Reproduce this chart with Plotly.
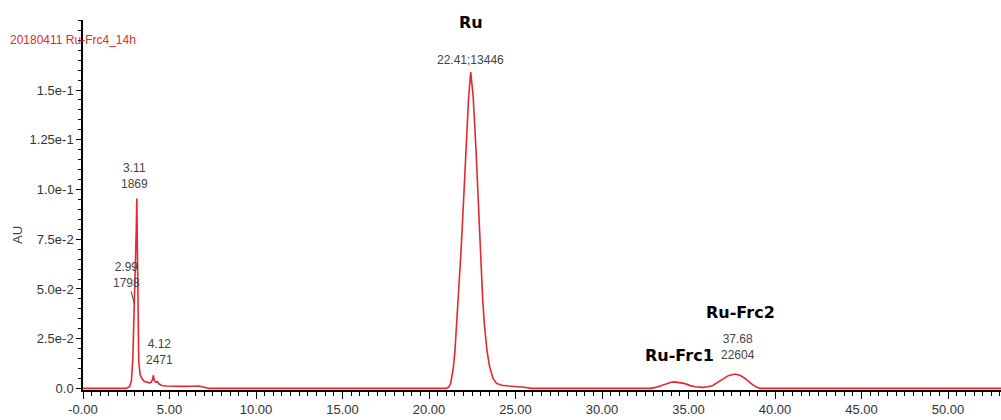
import plotly.graph_objects as go

# Chromatogram trace (retention time in min, absorbance in AU)
time_min = [0.0, 2.5, 2.7, 2.8, 2.88, 2.95, 2.99, 3.04, 3.08, 3.11, 3.14, 3.17, 3.22, 3.3, 3.4, 3.55, 3.7,
            3.85, 3.95, 4.02, 4.07, 4.12, 4.2, 4.3, 4.4, 4.55, 4.8, 5.2, 5.8, 6.3, 6.7, 7.0, 7.3,
            21.0, 21.15, 21.25, 21.4, 21.5, 21.7, 21.85, 22.0, 22.14, 22.28, 22.41, 22.55, 22.72,
            22.85, 22.95, 23.1, 23.2, 23.35, 23.5, 23.7, 23.9, 24.2, 24.6, 25.0, 25.5, 25.9,
            32.8, 33.1, 33.4, 33.7, 34.0, 34.2, 34.5, 34.8, 35.1, 35.4, 35.8, 36.1, 36.4, 36.7,
            37.0, 37.3, 37.68, 38.0, 38.3, 38.6, 38.9, 39.1, 53.1]
absorb_au = [0.0, 0.0, 0.001, 0.004, 0.015, 0.036, 0.042, 0.058, 0.08, 0.0955, 0.06, 0.03, 0.014, 0.007, 0.005, 0.0035, 0.003,
             0.0028, 0.0032, 0.0045, 0.0066, 0.004, 0.0032, 0.0034, 0.0022, 0.0015, 0.0012, 0.001, 0.001, 0.0011, 0.0012, 0.0006, 0.0,
             0.0, 0.0008, 0.0025, 0.01, 0.019, 0.045, 0.069, 0.095, 0.119, 0.145, 0.159, 0.147, 0.119,
             0.092, 0.069, 0.045, 0.032, 0.019, 0.011, 0.005, 0.0025, 0.0016, 0.0012, 0.001, 0.0006, 0.0,
             0.0, 0.0005, 0.0014, 0.0024, 0.0031, 0.0033, 0.003, 0.0024, 0.0014, 0.0008, 0.0005, 0.0008, 0.0015, 0.003,
             0.0048, 0.0064, 0.0072, 0.0065, 0.0048, 0.0025, 0.0008, 0.0, 0.0]

# Peak labels
peak_x = [22.41, 3.11, 2.99, 4.12, 37.68]
peak_y = [0.159, 0.0955, 0.042, 0.0066, 0.0072]
peak_text = ["22.41;13446", "3.11<br>1869", "2.99<br>1798", "4.12<br>2471", "37.68<br>22604"]

# Compound names
name_text = ["Ru", "Ru-Frc1", "Ru-Frc2"]
name_x = [22.41, 34.5, 37.98]
name_y = [0.184, 0.0166, 0.0382]

x_tickvals = [0, 5, 10, 15, 20, 25, 30, 35, 40, 45, 50]
x_ticktext = ["-0.00", "5.00", "10.00", "15.00", "20.00", "25.00", "30.00", "35.00", "40.00", "45.00", "50.00"]
y_tickvals = [0.0, 0.025, 0.05, 0.075, 0.1, 0.125, 0.15]
y_ticktext = ["0.0", "2.5e-2", "5.0e-2", "7.5e-2", "1.0e-1", "1.25e-1", "1.5e-1"]

narrow = "Liberation Sans Narrow, Arial Narrow, Liberation Sans, Arial"
red = "#e8262e"
gray = "#444"

fig = go.Figure()
fig.add_trace(go.Scatter(x=time_min, y=absorb_au, mode="lines",
                         line=dict(color=red, width=1.6),
                         hoverinfo="skip", showlegend=False))

# peak labels
fig.add_annotation(x=peak_x[0], y=peak_y[0], text=peak_text[0], showarrow=False, yshift=12,
                   font=dict(family=narrow, size=12, color=gray))
fig.add_annotation(x=peak_x[1] - 0.16, y=0.1067, text=peak_text[1], showarrow=False,
                   font=dict(family=narrow, size=12, color=gray))
fig.add_annotation(x=peak_x[2], y=peak_y[2], text=peak_text[2], showarrow=True,
                   arrowhead=0, arrowwidth=1, arrowcolor=gray, ax=-8, ay=-30,
                   font=dict(family=narrow, size=12, color=gray))
fig.add_annotation(x=peak_x[3] + 0.33, y=0.0181, text=peak_text[3], showarrow=False,
                   font=dict(family=narrow, size=12, color=gray))
fig.add_annotation(x=peak_x[4] + 0.18, y=0.0206, text=peak_text[4], showarrow=False,
                   font=dict(family=narrow, size=12, color=gray))

for t, x, y in zip(name_text, name_x, name_y):
    fig.add_annotation(x=x, y=y, text="<b>%s</b>" % t, showarrow=False,
                       font=dict(family="DejaVu Sans", size=16, color="black"))

fig.add_annotation(xref="paper", yref="paper", x=-0.0708, y=0.419, text="AU", textangle=-90,
                   showarrow=False, xanchor="center", yanchor="middle",
                   font=dict(family="Liberation Sans", size=13, color=gray))
fig.add_annotation(xref="paper", yref="paper", x=-0.082, xanchor="left", y=1.0, yanchor="middle",
                   yshift=-20, text="20180411 Ru-Frc4_14h", showarrow=False,
                   font=dict(family=narrow, size=12, color=red))

fig.update_layout(
    width=1001, height=420,
    margin=dict(l=83, r=0, t=20, b=30),
    paper_bgcolor="white", plot_bgcolor="white",
    xaxis=dict(range=[0, 53.06], tickvals=x_tickvals, ticktext=x_ticktext,
               ticks="outside", ticklen=7, tickwidth=1, tickcolor="black",
               minor=dict(dtick=0.5, ticks="outside", ticklen=4, tickcolor="black"),
               showline=True, linecolor="black", linewidth=1.5, showgrid=False, zeroline=False,
               tickfont=dict(family=narrow, size=13, color="#333")),
    yaxis=dict(range=[-0.0008, 0.1852], tickvals=y_tickvals, ticktext=y_ticktext,
               ticks="outside", ticklen=5, tickwidth=1, tickcolor="black",
               minor=dict(dtick=0.005, ticks="outside", ticklen=3, tickcolor="black"),
               showline=True, linecolor="black", linewidth=1.5, showgrid=False, zeroline=False,
               tickfont=dict(family=narrow, size=13, color="#333")),
)

fig.write_html("out.html")
